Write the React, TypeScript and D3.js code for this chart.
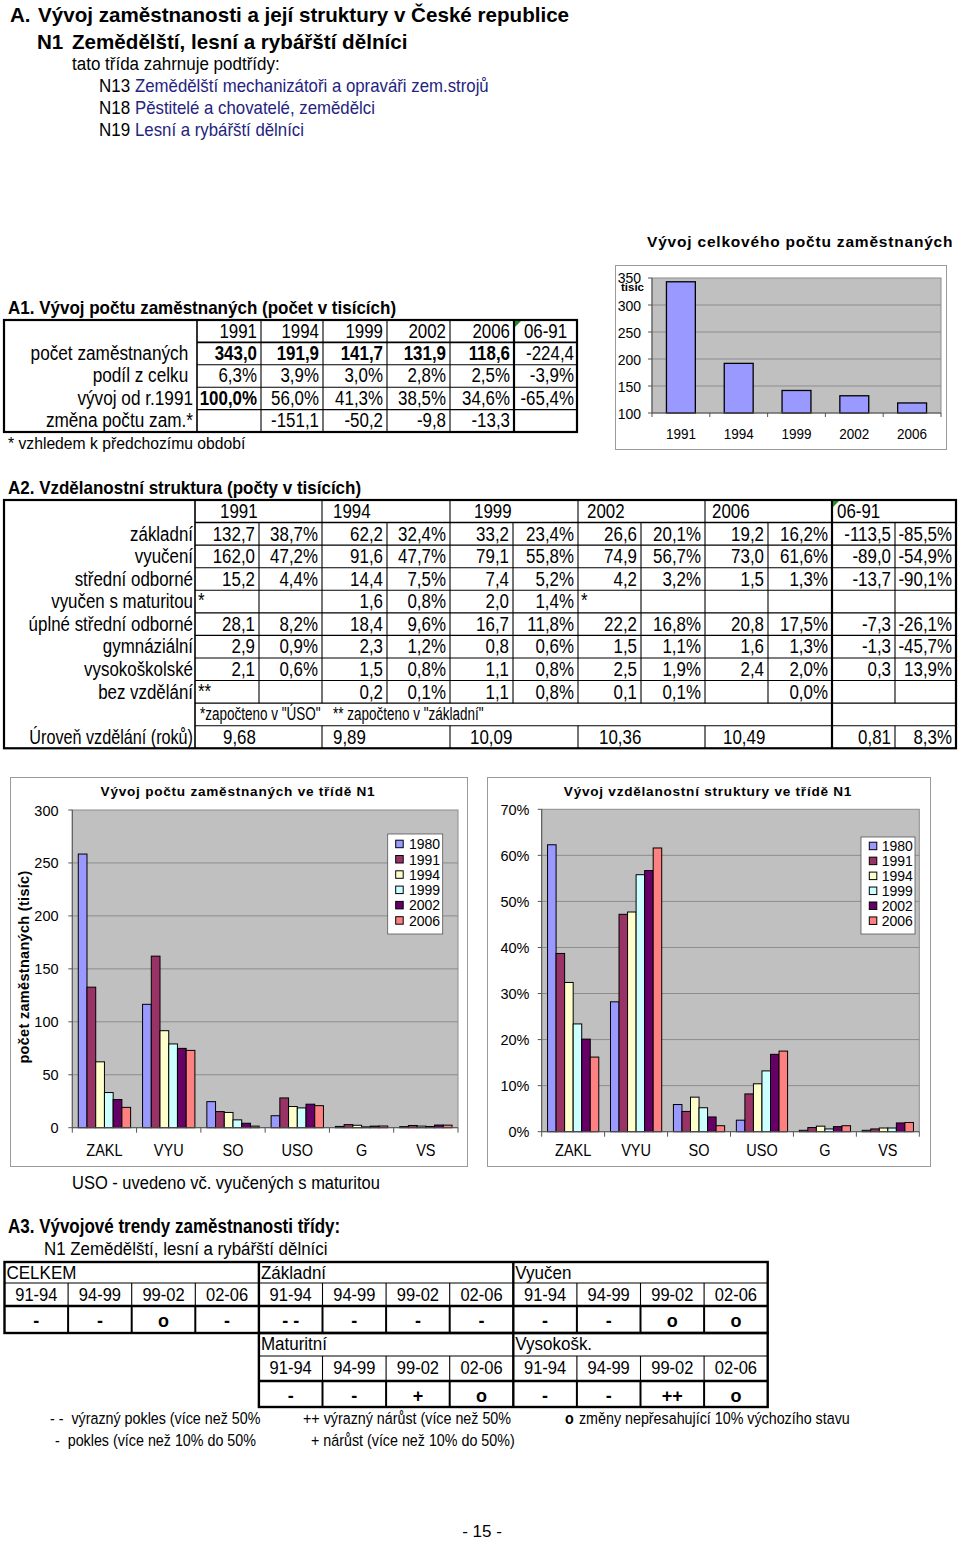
import React from 'react';
import * as d3 from 'd3';

const SANS = "'Liberation Sans', Arial, Helvetica, sans-serif";

// ---------------- header ----------------
const titleMainLetter = 'A.';
const titleMain = 'Vývoj zaměstnanosti a její struktury v České republice';
const titleClassCode = 'N1';
const titleClass = 'Zemědělští, lesní a rybářští dělníci';
const subIntro = 'tato třída zahrnuje podtřídy:';
const subCodes = ['N13', 'N18', 'N19'];
const subNames = ['Zemědělští mechanizátoři a opraváři zem.strojů', 'Pěstitelé a chovatelé, zemědělci', 'Lesní a rybářští dělníci'];

// ---------------- A1 ----------------
const a1Title = 'A1. Vývoj počtu zaměstnaných (počet v tisících)';
const a1Cols = ['1991', '1994', '1999', '2002', '2006', '06-91'];
const a1RowLabels = ['počet zaměstnaných ', 'podíl z celku ', 'vývoj od r.1991', 'změna počtu zam.*'];
const a1Count = ['343,0', '191,9', '141,7', '131,9', '118,6', '-224,4'];
const a1Share = ['6,3%', '3,9%', '3,0%', '2,8%', '2,5%', '-3,9%'];
const a1Dev = ['100,0%', '56,0%', '41,3%', '38,5%', '34,6%', '-65,4%'];
const a1Change = ['', '-151,1', '-50,2', '-9,8', '-13,3', ''];
const a1Note = '* vzhledem k předchozímu období';

// ---------------- total chart ----------------
const totalTitle = 'Vývoj celkového počtu zaměstnaných';
const totalYears = ['1991', '1994', '1999', '2002', '2006'];
const totalValues = [343.0, 191.9, 141.7, 131.9, 118.6];
const totalTicks = [100, 150, 200, 250, 300, 350];
const totalUnit = 'tisic';

// ---------------- A2 ----------------
const a2Title = 'A2. Vzdělanostní struktura (počty v tisících)';
const a2Cols = ['1991', '1994', '1999', '2002', '2006', '06-91'];
const a2RowLabels = ['základní', 'vyučení', 'střední odborné', 'vyučen s maturitou', 'úplné střední odborné', 'gymnáziální', 'vysokoškolské', 'bez vzdělání'];
const a2Zakl = ['132,7', '38,7%', '62,2', '32,4%', '33,2', '23,4%', '26,6', '20,1%', '19,2', '16,2%', '-113,5', '-85,5%'];
const a2Vyuc = ['162,0', '47,2%', '91,6', '47,7%', '79,1', '55,8%', '74,9', '56,7%', '73,0', '61,6%', '-89,0', '-54,9%'];
const a2SO = ['15,2', '4,4%', '14,4', '7,5%', '7,4', '5,2%', '4,2', '3,2%', '1,5', '1,3%', '-13,7', '-90,1%'];
const a2VM = ['*', '', '1,6', '0,8%', '2,0', '1,4%', '*', '', '', '', '', ''];
const a2USO = ['28,1', '8,2%', '18,4', '9,6%', '16,7', '11,8%', '22,2', '16,8%', '20,8', '17,5%', '-7,3', '-26,1%'];
const a2Gym = ['2,9', '0,9%', '2,3', '1,2%', '0,8', '0,6%', '1,5', '1,1%', '1,6', '1,3%', '-1,3', '-45,7%'];
const a2VS = ['2,1', '0,6%', '1,5', '0,8%', '1,1', '0,8%', '2,5', '1,9%', '2,4', '2,0%', '0,3', '13,9%'];
const a2Bez = ['**', '', '0,2', '0,1%', '1,1', '0,8%', '0,1', '0,1%', '', '0,0%', '', ''];
const a2Notes = ['*započteno v "ÚSO"', '** započteno v "základní"'];
const a2LevelLabel = 'Úroveň vzdělání (roků)';
const a2Level = ['9,68', '9,89', '10,09', '10,36', '10,49'];
const a2LevelDiff = ['0,81', '8,3%'];

// ---------------- bar charts ----------------
const eduCats = ['ZAKL', 'VYU', 'SO', 'USO', 'G', 'VS'];
const eduYears = ['1980', '1991', '1994', '1999', '2002', '2006'];
const eduColors = ['#9999ff', '#993366', '#ffffcc', '#ccffff', '#660066', '#ff8080'];
const cnt1980 = [258.4, 116.5, 24.6, 11.3, 1.2, 1.0];
const cnt1991 = [132.7, 162.0, 15.2, 28.1, 2.9, 2.1];
const cnt1994 = [62.2, 91.6, 14.4, 20.0, 2.3, 1.5];
const cnt1999 = [33.2, 79.1, 7.4, 18.7, 0.8, 1.1];
const cnt2002 = [26.6, 74.9, 4.2, 22.2, 1.5, 2.5];
const cnt2006 = [19.2, 73.0, 1.5, 20.8, 1.6, 2.4];
const pct1980 = [62.3, 28.2, 5.9, 2.5, 0.3, 0.3];
const pct1991 = [38.7, 47.2, 4.4, 8.2, 0.9, 0.6];
const pct1994 = [32.4, 47.7, 7.5, 10.4, 1.2, 0.8];
const pct1999 = [23.4, 55.8, 5.2, 13.2, 0.6, 0.8];
const pct2002 = [20.1, 56.7, 3.2, 16.8, 1.1, 1.9];
const pct2006 = [16.2, 61.6, 1.3, 17.5, 1.3, 2.0];
const cntTicks = [0, 50, 100, 150, 200, 250, 300];
const pctTicks = [0, 10, 20, 30, 40, 50, 60, 70];
const cntTitle = 'Vývoj počtu zaměstnaných ve třídě N1';
const pctTitle = 'Vývoj vzdělanostní struktury ve třídě N1';
const cntAxisTitle = 'počet zaměstnaných (tisíc)';
const usoNote = 'USO - uvedeno vč. vyučených s maturitou';

// ---------------- A3 ----------------
const a3Title = 'A3. Vývojové trendy zaměstnanosti třídy:';
const a3Sub = 'N1 Zemědělští, lesní a rybářští dělníci';
const a3Periods = ['91-94', '94-99', '99-02', '02-06'];
const a3Groups1 = ['CELKEM', 'Základní', 'Vyučen'];
const a3Trend1 = ['-', '-', 'o', '-', '- -', '-', '-', '-', '-', '-', 'o', 'o'];
const a3Groups2 = ['Maturitní', 'Vysokošk.'];
const a3Trend2 = ['-', '-', '+', 'o', '-', '-', '++', 'o'];
const a3Legend1 = ['- -  výrazný pokles (více než 50%', '++ výrazný nárůst (více než 50%'];
const a3Legend2 = ['-  pokles (více než 10% do 50%', '+ nárůst (více než 10% do 50%)'];
const a3LegendO = 'o';
const a3LegendOText = ' změny nepřesahující 10% výchozího stavu';
const pageNo = '- 15 -';

// ---------------- helpers ----------------
function T({ x, y, s = 16, sy = 1, a = 'start', b = false, fill = '#000', ls = 0, rot = 0, children }: any) {
  const tf = `translate(${x},${y})${rot ? ` rotate(${rot})` : ''} scale(1,${sy})`;
  return (
    <text transform={tf} fontSize={s} textAnchor={a} fontWeight={b ? 'bold' : 'normal'} fill={fill}
      fontFamily={SANS} letterSpacing={ls} style={{ whiteSpace: 'pre' }}>{children}</text>
  );
}

function L({ x1, y1, x2, y2, w = 1, c = '#000' }: any) {
  return <line x1={x1} y1={y1} x2={x2} y2={y2} stroke={c} strokeWidth={w} />;
}

const TS = 16.9; // table font size
const TSY = 1.16; // vertical stretch

function Header() {
  return (
    <g>
      <T x={10} y={21.5} s={20.6} b>{titleMainLetter}</T>
      <T x={38} y={21.5} s={20.6} b>{titleMain}</T>
      <T x={37} y={48.5} s={20.6} b>{titleClassCode}</T>
      <T x={72} y={48.5} s={20.6} b>{titleClass}</T>
      <T x={72} y={69.5} s={17} sy={1.12}>{subIntro}</T>
      {subCodes.map((c, i) => (
        <g key={c}>
          <T x={99} y={92 + i * 22} s={17} sy={1.12}>{c}</T>
          <T x={135} y={92 + i * 22} s={16.8} sy={1.12} fill="#24247e">{subNames[i]}</T>
        </g>
      ))}
    </g>
  );
}

function TableA1() {
  const cx = [4, 197, 261, 323, 387, 450, 514, 577];
  const top = 320, rh = 22.4;
  const ry = (i: number) => top + i * rh;
  const rows = [a1Count, a1Share, a1Dev, a1Change];
  const isBold = (r: number, c: number) => (r === 0 && c < 5) || (r === 2 && c === 0);
  return (
    <g>
      <T x={8} y={314} s={17} sy={1.1} b>{a1Title}</T>
      {a1Cols.map((c, i) => i < 5
        ? <T key={c} x={cx[i + 2] - 4} y={ry(0) + 17.5} s={TS} sy={TSY} a="end">{c}</T>
        : <T key={c} x={(cx[i + 1] + cx[i + 2]) / 2} y={ry(0) + 17.5} s={TS} sy={TSY} a="middle">{c}</T>)}
      {a1RowLabels.map((l, r) => (
        <T key={l} x={193} y={ry(r + 1) + 17.5} s={17.2} sy={TSY} a="end">{l}</T>
      ))}
      {rows.map((row, r) => row.map((v, c) => (
        <T key={r + '-' + c} x={cx[c + 2] - (c === 5 ? 3 : 4)} y={ry(r + 1) + 17.5} s={TS} sy={TSY} a="end" b={isBold(r, c)}>{v}</T>
      )))}
      {[1, 2, 3, 4].map(i => <L key={'h' + i} x1={cx[1]} x2={cx[7]} y1={ry(i)} y2={ry(i)} w={i === 1 ? 1.8 : 1.1} />)}
      {[2, 3, 4, 5].map(i => <L key={'v' + i} x1={cx[i]} x2={cx[i]} y1={ry(0)} y2={ry(5)} w={1.1} />)}
      <L x1={cx[1]} x2={cx[1]} y1={ry(0)} y2={ry(5)} w={1.6} />
      <L x1={cx[6]} x2={cx[6]} y1={ry(0)} y2={ry(5)} w={2.2} />
      <rect x={cx[0]} y={ry(0)} width={cx[7] - cx[0]} height={ry(5) - ry(0)} fill="none" stroke="#000" strokeWidth={2.2} />
      <path d={`M${cx[6] + 1},${ry(0) + 1} l6,0 l-6,6 z`} fill="#1e8a1e" />
      <T x={8} y={449} s={15.7} sy={1.1}>{a1Note}</T>
    </g>
  );
}

function TotalChart() {
  const X0 = 652, X1 = 941, Y0 = 278, Y1 = 413;
  const x = d3.scaleBand<string>().domain(totalYears).range([X0, X1]).paddingInner(0.5).paddingOuter(0.25);
  const y = d3.scaleLinear().domain([100, 350]).range([Y1, Y0]);
  const step = x.step();
  return (
    <g>
      <T x={647} y={247} s={15.5} b ls={0.8}>{totalTitle}</T>
      <rect x={615.5} y={265.5} width={331} height={184} fill="#fff" stroke="#9a9a9a" />
      <rect x={X0} y={Y0} width={X1 - X0} height={Y1 - Y0} fill="#c0c0c0" stroke="#8c8c8c" />
      {totalTicks.filter(t => t > 100 && t < 350).map(t => (
        <L key={t} x1={X0} x2={X1} y1={y(t)} y2={y(t)} c="#8c8c8c" />
      ))}
      {totalValues.map((v, i) => (
        <rect key={i} x={x(totalYears[i])} y={y(v)} width={x.bandwidth()} height={y(100) - y(v)}
          fill="#9999ff" stroke="#000" strokeWidth={1.3} />
      ))}
      <L x1={X0} x2={X0} y1={Y0} y2={Y1} c="#555" />
      <L x1={X0} x2={X1} y1={Y1} y2={Y1} c="#555" />
      {totalTicks.map(t => <L key={'t' + t} x1={X0 - 4} x2={X0} y1={y(t)} y2={y(t)} c="#555" />)}
      {totalYears.map((yy, i) => <L key={'xt' + yy} x1={X0 + i * step} x2={X0 + i * step} y1={Y1} y2={Y1 + 4} c="#555" />)}
      <L x1={X1} x2={X1} y1={Y1} y2={Y1 + 4} c="#555" />
      {totalTicks.map(t => (
        <T key={'l' + t} x={641} y={y(t) + (t === 350 ? 4.5 : 6)} s={14} sy={1.05} a="end">{String(t)}</T>
      ))}
      <T x={621} y={291} s={11.5} b>{totalUnit}</T>
      {totalYears.map(yy => (
        <T key={'xl' + yy} x={(x(yy) as number) + x.bandwidth() / 2} y={439} s={13.5} sy={1.1} a="middle">{yy}</T>
      ))}
    </g>
  );
}

function TableA2() {
  const cx = [4, 195, 259, 322, 387, 450, 513, 578, 641, 705, 768, 832, 895, 956];
  const top = 500, rh = 22.57;
  const ry = (i: number) => top + i * rh;
  const rows = [a2Zakl, a2Vyuc, a2SO, a2VM, a2USO, a2Gym, a2VS, a2Bez];
  const headOff = [25, 11, 24, 9, 7, 5];
  const levelOff = [28, 11, 20, 21, 18];
  const bl = 18;
  return (
    <g>
      <T x={8} y={494} s={17} sy={1.1} b>{a2Title}</T>
      {a2Cols.map((c, k) => (
        <T key={c} x={cx[1 + 2 * k] + headOff[k]} y={ry(0) + bl} s={TS} sy={TSY}>{c}</T>
      ))}
      {a2RowLabels.map((l, r) => (
        <T key={l} x={193} y={ry(r + 1) + bl} s={TS} sy={TSY} a="end">{l}</T>
      ))}
      {rows.map((row, r) => row.map((v, c) => v.startsWith('*')
        ? <T key={r + '-' + c} x={cx[c + 1] + 3} y={ry(r + 1) + bl - 1} s={TS} sy={TSY}>{v}</T>
        : <T key={r + '-' + c} x={cx[c + 2] - 4} y={ry(r + 1) + bl} s={TS} sy={TSY} a="end">{v}</T>))}
      <T x={200} y={ry(9) + bl - 1} s={13.5} sy={1.3}>{a2Notes[0]}</T>
      <T x={333} y={ry(9) + bl - 1} s={13.5} sy={1.3}>{a2Notes[1]}</T>
      <T x={193} y={ry(10) + bl} s={16.2} sy={1.2} a="end">{a2LevelLabel}</T>
      {a2Level.map((v, k) => (
        <T key={'lv' + k} x={cx[1 + 2 * k] + levelOff[k]} y={ry(10) + bl} s={TS} sy={TSY}>{v}</T>
      ))}
      <T x={cx[12] - 4} y={ry(10) + bl} s={TS} sy={TSY} a="end">{a2LevelDiff[0]}</T>
      <T x={cx[13] - 4} y={ry(10) + bl} s={TS} sy={TSY} a="end">{a2LevelDiff[1]}</T>
      {d3.range(1, 11).map(i => <L key={'h' + i} x1={cx[1]} x2={cx[13]} y1={ry(i)} y2={ry(i)} w={i === 1 ? 1.5 : 1.1} />)}
      {[3, 5, 7, 9].map(i => (
        <g key={'vy' + i}>
          <L x1={cx[i]} x2={cx[i]} y1={ry(0)} y2={ry(9)} w={1.1} />
          <L x1={cx[i]} x2={cx[i]} y1={ry(10)} y2={ry(11)} w={1.1} />
        </g>
      ))}
      {[2, 4, 6, 8, 10].map(i => <L key={'vs' + i} x1={cx[i]} x2={cx[i]} y1={ry(1)} y2={ry(9)} w={1.1} />)}
      <L x1={cx[12]} x2={cx[12]} y1={ry(1)} y2={ry(9)} w={1.1} />
      <L x1={cx[12]} x2={cx[12]} y1={ry(10)} y2={ry(11)} w={1.1} />
      <L x1={cx[1]} x2={cx[1]} y1={ry(0)} y2={ry(11)} w={1.6} />
      <L x1={cx[11]} x2={cx[11]} y1={ry(0)} y2={ry(11)} w={2.2} />
      <rect x={cx[0]} y={ry(0)} width={cx[13] - cx[0]} height={ry(11) - ry(0)} fill="none" stroke="#000" strokeWidth={2.2} />
      <path d={`M${cx[11] + 1},${ry(0) + 1} l6,0 l-6,6 z`} fill="#1e8a1e" />
    </g>
  );
}

function BarChart(p: any) {
  const { fx, fy, fw, fh, X0, X1, Y0, Y1, yMax, ticks, fmt, title, titleX, series, leg, labelRight, axisTitle } = p;
  const x0 = d3.scaleBand<string>().domain(eduCats).range([X0, X1]);
  const x1 = d3.scaleBand<string>().domain(eduYears).range([0, x0.bandwidth()]).paddingOuter(0.685);
  const y = d3.scaleLinear().domain([0, yMax]).range([Y1, Y0]);
  return (
    <g>
      <rect x={fx + 0.5} y={fy + 0.5} width={fw} height={fh} fill="#fff" stroke="#9a9a9a" />
      <T x={titleX} y={796} s={13.6} b ls={0.75} a="middle">{title}</T>
      <rect x={X0} y={Y0} width={X1 - X0} height={Y1 - Y0} fill="#c0c0c0" stroke="#8c8c8c" />
      {ticks.filter((t: number) => t > 0 && t < yMax).map((t: number) => (
        <L key={'g' + t} x1={X0} x2={X1} y1={y(t)} y2={y(t)} c="#8c8c8c" />
      ))}
      {series.map((vals: number[], si: number) => vals.map((v, ci) => (
        <rect key={si + '-' + ci} x={(x0(eduCats[ci]) as number) + (x1(eduYears[si]) as number)} y={y(v)}
          width={x1.bandwidth()} height={Y1 - y(v)} fill={eduColors[si]} stroke="#000" strokeWidth={1} />
      )))}
      <L x1={X0} x2={X0} y1={Y0} y2={Y1} c="#555" />
      <L x1={X0} x2={X1} y1={Y1} y2={Y1} c="#555" />
      {ticks.map((t: number) => <L key={'t' + t} x1={X0 - 4} x2={X0} y1={y(t)} y2={y(t)} c="#555" />)}
      {eduCats.map((c, i) => <L key={'xt' + c} x1={X0 + i * x0.step()} x2={X0 + i * x0.step()} y1={Y1} y2={Y1 + 5} c="#555" />)}
      <L x1={X1} x2={X1} y1={Y1} y2={Y1 + 5} c="#555" />
      {ticks.map((t: number) => (
        <T key={'yl' + t} x={labelRight} y={y(t) + 5.5} s={14.5} sy={1.05} a="end">{fmt(t)}</T>
      ))}
      {eduCats.map(c => (
        <T key={'xl' + c} x={(x0(c) as number) + x0.bandwidth() / 2} y={1156} s={14.5} sy={1.08} a="middle">{c}</T>
      ))}
      {axisTitle && <T x={29} y={967} s={14.5} b ls={0.3} a="middle" rot={-90}>{axisTitle}</T>}
      <rect x={leg.x} y={leg.y} width={leg.w} height={leg.h} fill="#fff" stroke="#555" strokeWidth={0.8} />
      {eduYears.map((yy, i) => (
        <g key={'lg' + yy}>
          <rect x={leg.sq} y={leg.cy0 + i * leg.step - 3.8} width={7.5} height={7.5} fill={eduColors[i]} stroke="#000" strokeWidth={1} />
          <T x={leg.tx} y={leg.cy0 + i * leg.step + 5.2} s={14} sy={1.07}>{yy}</T>
        </g>
      ))}
    </g>
  );
}

function TableA3() {
  const x = (i: number) => 4.5 + i * 63.6;
  const b1 = [1262, 1283, 1306, 1333];
  const b2 = [1333, 1356, 1381, 1407];
  const block = (rows: number[], c0: number, groups: string[], trend: string[], key: string) => {
    const n = groups.length * 4;
    return (
      <g key={key}>
        {groups.map((g, gi) => (
          <T key={g} x={x(c0 + gi * 4) + 2} y={rows[0] + 17} s={17} sy={1.1}>{g}</T>
        ))}
        {d3.range(n).map(i => (
          <T key={'p' + i} x={(x(c0 + i) + x(c0 + i + 1)) / 2} y={rows[1] + 18} s={16.5} sy={1.1} a="middle">{a3Periods[i % 4]}</T>
        ))}
        {trend.map((t, i) => (
          <T key={'s' + i} x={(x(c0 + i) + x(c0 + i + 1)) / 2} y={rows[2] + 21} s={18} sy={1.05} b a="middle">{t}</T>
        ))}
        <L x1={x(c0)} x2={x(c0 + n)} y1={rows[1]} y2={rows[1]} w={1.1} />
        <L x1={x(c0)} x2={x(c0 + n)} y1={rows[2]} y2={rows[2]} w={2.4} />
        {d3.range(1, n).filter(i => i % 4 !== 0).map(i => (
          <g key={'v' + i}>
            <L x1={x(c0 + i)} x2={x(c0 + i)} y1={rows[1]} y2={rows[2]} w={1.1} />
            <L x1={x(c0 + i)} x2={x(c0 + i)} y1={rows[2]} y2={rows[3]} w={2} />
          </g>
        ))}
        {d3.range(4, n, 4).map(i => <L key={'g' + i} x1={x(c0 + i)} x2={x(c0 + i)} y1={rows[0]} y2={rows[3]} w={2.4} />)}
        <rect x={x(c0)} y={rows[0]} width={x(c0 + n) - x(c0)} height={rows[3] - rows[0]} fill="none" stroke="#000" strokeWidth={2.4} />
      </g>
    );
  };
  return (
    <g>
      <T x={8} y={1233} s={17} sy={1.15} b>{a3Title}</T>
      <T x={44} y={1255} s={16.9} sy={1.1}>{a3Sub}</T>
      {block(b1, 0, a3Groups1, a3Trend1, 'b1')}
      {block(b2, 4, a3Groups2, a3Trend2, 'b2')}
      <T x={50} y={1424} s={14.3} sy={1.1}>{a3Legend1[0]}</T>
      <T x={303} y={1424} s={14.3} sy={1.1}>{a3Legend1[1]}</T>
      <T x={565} y={1424} s={14.3} sy={1.1} b>{a3LegendO}</T>
      <T x={575} y={1424} s={14.3} sy={1.1}>{a3LegendOText}</T>
      <T x={55} y={1446} s={14.3} sy={1.1}>{a3Legend2[0]}</T>
      <T x={311} y={1446} s={14.3} sy={1.1}>{a3Legend2[1]}</T>
    </g>
  );
}

export default function App() {
  return (
    <svg width={960} height={1543} style={{ position: 'absolute', left: 0, top: 0, background: '#fff' }}>
      <rect width={960} height={1543} fill="#fff" />
      <Header />
      <TableA1 />
      <TotalChart />
      <TableA2 />
      <BarChart fx={10} fy={777} fw={457} fh={389} X0={72.3} X1={458} Y0={810} Y1={1127.7}
        yMax={300} ticks={cntTicks} fmt={(v: number) => String(v)} title={cntTitle} titleX={238}
        series={[cnt1980, cnt1991, cnt1994, cnt1999, cnt2002, cnt2006]} labelRight={58.5}
        axisTitle={cntAxisTitle}
        leg={{ x: 387.7, y: 834, w: 55, h: 100, sq: 395.7, tx: 409, cy0: 844, step: 15.3 }} />
      <BarChart fx={487} fy={777} fw={443} fh={389} X0={541.7} X1={919.3} Y0={809.3} Y1={1131.7}
        yMax={70} ticks={pctTicks} fmt={(v: number) => `${v}%`} title={pctTitle} titleX={708}
        series={[pct1980, pct1991, pct1994, pct1999, pct2002, pct2006]} labelRight={529.5}
        leg={{ x: 861, y: 837, w: 54, h: 97, sq: 869.3, tx: 881.7, cy0: 846, step: 14.95 }} />
      <T x={72} y={1189} s={16.5} sy={1.1}>{usoNote}</T>
      <TableA3 />
      <T x={482} y={1537} s={17} a="middle">{pageNo}</T>
    </svg>
  );
}
